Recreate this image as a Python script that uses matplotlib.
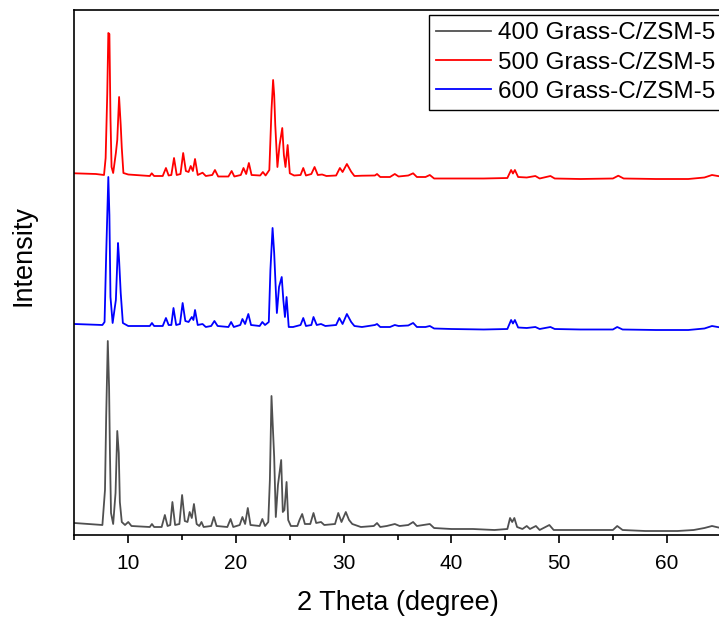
import matplotlib
matplotlib.use("Agg")
import matplotlib.pyplot as plt
from matplotlib.ticker import MultipleLocator, NullLocator

plt.rcParams['font.family'] = ['Liberation Sans', 'DejaVu Sans']

# ---- data (2 theta in degrees, intensity in arbitrary units) ----
labels = ["400 Grass-C/ZSM-5", "500 Grass-C/ZSM-5", "600 Grass-C/ZSM-5"]
colors = ["#505050", "#ff0000", "#0000ff"]
offsets = [0, 350, 200]

theta_400 = [5.0, 7.6, 7.84, 7.95, 8.1, 8.22, 8.3, 8.4, 8.6, 8.82, 8.98, 9.12, 9.22, 9.4, 9.7,
             10.0, 10.3, 12.0, 12.2, 12.4, 13.1, 13.4, 13.65, 13.9, 14.1, 14.35, 14.75, 15.0,
             15.25, 15.5, 15.7, 15.9, 16.1, 16.35, 16.6, 16.8, 17.0, 17.7, 17.95, 18.2, 19.2,
             19.5, 19.75, 20.35, 20.6, 20.85, 21.1, 21.35, 22.2, 22.45, 22.7, 23.0, 23.15,
             23.3, 23.45, 23.55, 23.7, 23.9, 24.2, 24.35, 24.5, 24.7, 24.85, 25.1, 25.7, 25.9,
             26.15, 26.4, 26.9, 27.2, 27.45, 27.9, 28.2, 29.2, 29.5, 29.8, 30.2, 30.5, 30.8,
             31.6, 32.8, 33.1, 33.4, 34.0, 34.75, 35.2, 36.0, 36.45, 36.8, 38.0, 38.4, 40.0,
             42.0, 44.0, 45.2, 45.45, 45.65, 45.85, 46.1, 46.6, 47.0, 47.3, 47.85, 48.2, 49.1,
             49.5, 52.0, 55.0, 55.4, 55.9, 58.0, 61.0, 62.5, 63.5, 64.2, 65.0]
int_400 = [12, 10, 45, 118, 194, 148, 82, 22, 11, 42, 104, 82, 33, 13, 10,
           13, 9, 8, 11, 8, 8, 20, 9, 10, 33, 10, 11, 40,
           14, 13, 23, 17, 31, 11, 9, 13, 8, 9, 18, 9, 8,
           16, 8, 10, 18, 11, 27, 10, 9, 16, 9, 13, 55,
           139, 102, 78, 18, 50, 75, 23, 25, 53, 15, 9, 9, 15,
           21, 11, 11, 22, 12, 13, 10, 11, 22, 13, 23, 15, 11,
           8, 9, 12, 8, 9, 11, 9, 10, 13, 9, 11, 7, 6,
           6, 5, 6, 17, 13, 17, 8, 6, 9, 6, 9, 5, 10,
           5, 5, 5, 9, 5, 4, 4, 5, 7, 9, 7]

theta_500 = [5.0, 7.0, 7.75, 7.9, 8.05, 8.15, 8.25, 8.35, 8.45, 8.6, 8.85, 8.98, 9.15, 9.3,
             9.4, 9.55, 10.0, 12.0, 12.18, 12.4, 13.2, 13.5, 13.75, 14.0, 14.25, 14.5, 14.85,
             15.1, 15.35, 15.6, 15.8, 16.0, 16.2, 16.45, 16.9, 17.2, 17.8, 18.05, 18.35, 19.3,
             19.6, 19.85, 20.45, 20.7, 20.95, 21.2, 21.45, 22.25, 22.5, 22.75, 23.1, 23.3,
             23.45, 23.55, 23.65, 23.85, 24.05, 24.3, 24.45, 24.6, 24.8, 25.0, 25.4, 26.0,
             26.25, 26.5, 27.0, 27.3, 27.6, 28.0, 28.4, 29.3, 29.65, 29.9, 30.3, 30.7, 31.0,
             31.7, 32.9, 33.1, 33.4, 34.3, 34.75, 35.1, 36.0, 36.45, 36.8, 37.6, 38.0, 38.4,
             40.0, 43.0, 45.2, 45.55, 45.72, 45.9, 46.2, 47.0, 47.8, 48.2, 49.2, 49.6, 52.0,
             55.0, 55.5, 56.0, 59.0, 62.0, 63.5, 64.2, 65.0]
int_500 = [11.7, 11, 10, 27, 91, 152, 151, 67, 18, 12, 32, 45, 88, 60,
           37, 12, 10.5, 9, 11.7, 9, 9, 17, 9.5, 10, 27, 10, 11,
           32, 14, 13, 19, 14, 26, 10, 12.3, 9, 10, 15, 8.5, 8.5,
           14, 8.5, 10, 17, 11, 22, 10, 9.5, 13, 9.5, 15, 75,
           105, 90, 60, 18, 40, 57, 30, 18, 40, 11.7, 9.5, 10,
           17, 9.5, 11, 18, 10, 10.5, 9, 9.5, 17, 13, 21, 13.3, 9,
           9.3, 9.5, 11, 8, 8, 11, 8.5, 9.5, 11.7, 8, 8, 10, 6.5,
           6.5, 6.5, 7, 15, 11.5, 15, 8, 7.5, 9, 6.5, 9, 6.5, 6,
           6.5, 9.3, 6.5, 6, 6, 7.5, 10, 8.5]

theta_600 = [5.0, 7.6, 7.8, 7.95, 8.15, 8.25, 8.35, 8.55, 8.85, 9.05, 9.15, 9.3, 9.5, 10.0,
             12.0, 12.2, 12.4, 13.2, 13.5, 13.75, 14.0, 14.2, 14.45, 14.8, 15.05, 15.3, 15.6,
             15.9, 16.05, 16.2, 16.45, 16.9, 17.2, 17.7, 18.0, 18.3, 19.3, 19.55, 19.8, 20.4,
             20.6, 20.85, 21.15, 21.4, 22.2, 22.45, 22.7, 23.05, 23.2, 23.4, 23.55, 23.7, 23.8,
             24.0, 24.25, 24.4, 24.55, 24.7, 24.9, 25.3, 26.0, 26.25, 26.5, 27.0, 27.2, 27.5,
             27.9, 28.3, 29.3, 29.6, 29.9, 30.3, 30.7, 31.0, 31.7, 32.9, 33.1, 33.4, 34.3,
             34.75, 35.1, 36.0, 36.45, 36.8, 37.6, 38.0, 38.4, 40.0, 43.0, 45.2, 45.55, 45.72,
             45.9, 46.2, 47.0, 47.8, 48.2, 49.2, 49.6, 52.0, 55.0, 55.4, 55.9, 59.0, 62.0,
             63.5, 64.2, 65.0]
int_600 = [11, 10, 13, 80, 158, 120, 38, 12, 35, 92, 75, 42, 12, 9,
           9, 12, 9, 9, 17, 10, 10, 27, 10, 11, 32, 14, 13,
           18, 15, 25, 10, 11, 8, 9, 14, 9, 8, 13, 8, 10,
           16, 11, 21, 10, 9, 13, 10, 13, 65, 107, 82, 45, 22,
           48, 58, 35, 18, 38, 8, 8, 10, 17, 9, 10, 18, 10,
           11, 9, 10, 17, 11, 21, 13, 9, 8, 10, 11, 8, 8,
           10, 9, 9.5, 12, 8, 8, 9, 6.5, 6, 5.5, 6, 15, 11.5,
           15, 7.5, 7, 8, 6, 8, 6, 5.5, 5.5, 8, 5.5, 5, 5,
           6.5, 9, 7.5]

thetas = [theta_400, theta_500, theta_600]
ints = [int_400, int_500, int_600]

x_ticks = [10, 20, 30, 40, 50, 60]
x_label = "2 Theta (degree)"
y_label = "Intensity"

# ---- figure ----
fig = plt.figure(figsize=(7.19, 6.17), dpi=100)
ax = fig.add_axes([74.4 / 719, 82 / 617, 646.2 / 719, 525 / 617])

handles = []
for th, it, off, c, lab in zip(thetas, ints, offsets, colors, labels):
    h, = ax.plot(th, [v + off for v in it], color=c, lw=1.3, label=lab)
    handles.append(h)

ax.set_xlim(5, 65)
ax.set_ylim(0, 525)
ax.set_xticks(x_ticks)
ax.xaxis.set_minor_locator(MultipleLocator(5))
ax.yaxis.set_major_locator(NullLocator())
ax.tick_params(axis='x', which='major', direction='out', length=6, width=1.2,
               labelsize=15, pad=8)
ax.tick_params(axis='x', which='minor', direction='out', length=3.5, width=1.2)
for s in ax.spines.values():
    s.set_linewidth(1.2)

ax.set_xlabel(x_label, fontsize=19.5, labelpad=12)
ax.set_ylabel(y_label, fontsize=19.5)
ax.yaxis.set_label_coords(-0.058, 0.533)

leg = fig.legend(handles=handles, labels=labels, loc='upper left',
                 bbox_to_anchor=(429 / 719, 1 - 15 / 617), fontsize=17.5,
                 frameon=True, fancybox=False, edgecolor='black', framealpha=1,
                 handlelength=2.25, handletextpad=0.3, labelspacing=0.3,
                 borderpad=0.3, borderaxespad=0)
leg.get_frame().set_linewidth(1.0)

fig.savefig("out.png", dpi=100)
